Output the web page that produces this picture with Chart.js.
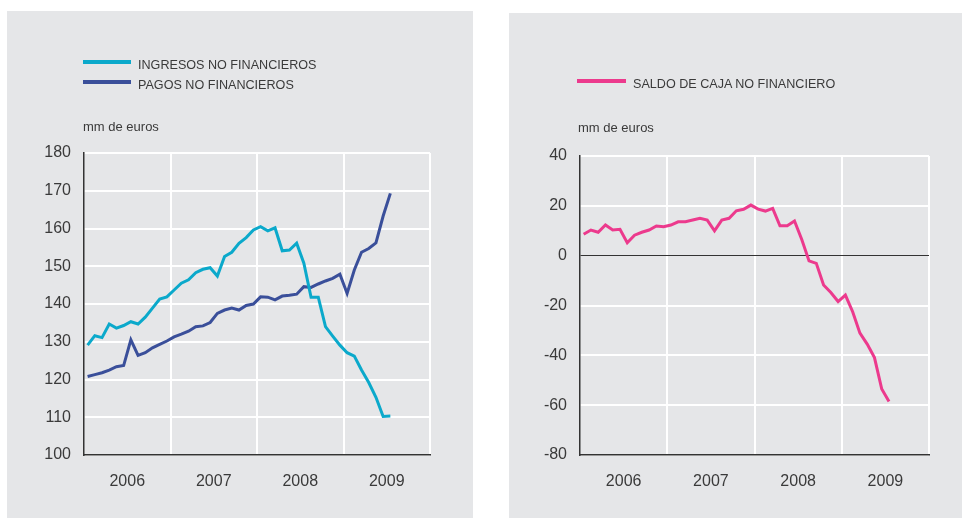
<!DOCTYPE html>
<html>
<head>
<meta charset="utf-8">
<script src="https://cdn.jsdelivr.net/npm/chart.js@4.4.1/dist/chart.umd.min.js"></script>
<style>
  body { margin: 0; background: #fff; width: 962px; height: 518px; overflow: hidden; font-family: "Liberation Sans", Arial, sans-serif; color: #3a3a3a; }
  .panel { position: absolute; background: #e5e6e8; }
  .panel canvas { position: absolute; left: 0; top: 0; }
  .key { position: absolute; height: 4px; }
  .txt { position: absolute; font-size: 12.6px; line-height: 16px; white-space: nowrap; }
  .unit { position: absolute; font-size: 13px; line-height: 16px; white-space: nowrap; }
</style>
</head>
<body>

<div class="panel" id="leftPanel" style="left:7px; top:11px; width:466px; height:507px;">
  <canvas id="leftChart" width="466" height="507"></canvas>
  <div class="key" style="left:76px; top:49px; width:48px; background:#0ba9cb;"></div>
  <div class="txt" style="left:131px; top:46px;">INGRESOS NO FINANCIEROS</div>
  <div class="key" style="left:76px; top:69px; width:48px; background:#3a4f9a;"></div>
  <div class="txt" style="left:131px; top:66px;">PAGOS NO FINANCIEROS</div>
  <div class="unit" style="left:76px; top:108px;">mm de euros</div>
</div>

<div class="panel" id="rightPanel" style="left:509px; top:13px; width:453px; height:505px;">
  <canvas id="rightChart" width="453" height="505"></canvas>
  <div class="key" style="left:68px; top:66px; width:49px; background:#ec3a8d;"></div>
  <div class="txt" style="left:124px; top:63px;">SALDO DE CAJA NO FINANCIERO</div>
  <div class="unit" style="left:69px; top:107px;">mm de euros</div>
</div>

<script>
// data, monthly from jan 2006 to jul 2009 (mm de euros)
const years = ["2006", "2007", "2008", "2009"];

const ingresos = [
  129.1, 131.6, 131.1, 134.7, 133.6, 134.3, 135.3, 134.7, 136.5, 138.9, 141.3, 141.9,
  143.7, 145.5, 146.4, 148.3, 149.2, 149.6, 147.4, 152.6, 153.7, 156.1, 157.6, 159.6,
  160.5, 159.4, 160.2, 154.1, 154.3, 156.1, 150.8, 141.8, 141.8, 134.0, 131.5, 129.1,
  127.1, 126.2, 122.5, 119.2, 115.3, 110.2, 110.3
];

const pagos = [
  120.8, 121.3, 121.8, 122.5, 123.4, 123.7, 130.5, 126.4, 127.1, 128.4, 129.3, 130.2,
  131.3, 132.0, 132.8, 134.0, 134.2, 135.1, 137.5, 138.4, 138.9, 138.4, 139.6, 140.0,
  141.9, 141.8, 141.1, 142.1, 142.3, 142.6, 144.6, 144.4, 145.3, 146.1, 146.8, 147.9,
  142.8, 149.0, 153.7, 154.7, 156.2, 163.3, 169.3
];

const saldo = [
  8.6, 10.3, 9.4, 12.3, 10.3, 10.6, 5.2, 8.2, 9.4, 10.3, 11.9, 11.6,
  12.3, 13.6, 13.6, 14.3, 15.0, 14.3, 10.0, 14.3, 15.0, 18.0, 18.6, 20.3,
  18.7, 17.9, 19.0, 12.0, 12.0, 13.9, 6.5, -2.1, -3.1, -11.8, -14.8, -18.4,
  -15.8, -22.5, -31.1, -35.5, -40.9, -53.5, -58.5
];

const leftTicks = [100, 110, 120, 130, 140, 150, 160, 170, 180];
const rightTicks = [-80, -60, -40, -20, 0, 20, 40];

Chart.defaults.font.family = "'Liberation Sans', Arial, sans-serif";
Chart.defaults.color = "#3a3a3a";

// months sit in the middle of their slot, 12 slots per year
function toPoints(values) {
  return values.map((v, i) => ({ x: i + 0.5, y: v }));
}

function xAxis() {
  return {
    type: "linear",
    min: 0,
    max: years.length * 12,
    afterBuildTicks: (scale) => {
      const t = [];
      for (let v = 0; v <= years.length * 12; v += 6) t.push({ value: v });
      scale.ticks = t;
    },
    afterFit: (scale) => { scale.height = 63; },
    ticks: {
      autoSkip: false,
      maxRotation: 0,
      padding: 17,
      font: { size: 16 },
      callback: (v) => (v % 12 === 6 ? years[(v - 6) / 12] : ""),
    },
    grid: {
      drawTicks: false,
      lineWidth: 2,
      color: (ctx) => (ctx.tick && ctx.tick.value % 12 === 0 && ctx.tick.value > 0 ? "#ffffff" : "rgba(0,0,0,0)"),
    },
    border: { color: "#333", width: 1.5 },
  };
}

function yAxis(tickList, width, zeroLine) {
  return {
    min: tickList[0],
    max: tickList[tickList.length - 1],
    afterBuildTicks: (scale) => {
      scale.ticks = tickList.map((v) => ({ value: v }));
    },
    afterFit: (scale) => { scale.width = width; },
    ticks: { padding: 13, font: { size: 16 } },
    grid: {
      drawTicks: false,
      lineWidth: (ctx) => (zeroLine && ctx.tick && ctx.tick.value === 0 ? 1 : 2),
      color: (ctx) => (zeroLine && ctx.tick && ctx.tick.value === 0 ? "#333" : "#ffffff"),
    },
    border: { color: "#333", width: 1.5 },
  };
}

function baseOptions(padding, yTicks, yWidth, zeroLine) {
  return {
    responsive: false,
    animation: false,
    layout: { padding: padding },
    plugins: { legend: { display: false }, tooltip: { enabled: false } },
    elements: { point: { radius: 0 }, line: { tension: 0, borderWidth: 3 } },
    scales: { x: xAxis(), y: yAxis(yTicks, yWidth, zeroLine) },
  };
}

new Chart(document.getElementById("leftChart"), {
  type: "line",
  data: {
    datasets: [
      { label: "INGRESOS NO FINANCIEROS", data: toPoints(ingresos), borderColor: "#0ba9cb" },
      { label: "PAGOS NO FINANCIEROS", data: toPoints(pagos), borderColor: "#3a4f9a" },
    ],
  },
  options: baseOptions({ top: 142, right: 43, bottom: 0, left: 0 }, leftTicks, 77, false),
});

new Chart(document.getElementById("rightChart"), {
  type: "line",
  data: {
    datasets: [
      { label: "SALDO DE CAJA NO FINANCIERO", data: toPoints(saldo), borderColor: "#ec3a8d" },
    ],
  },
  options: baseOptions({ top: 143, right: 33, bottom: 0, left: 0 }, rightTicks, 71, true),
});
</script>
</body>
</html>
